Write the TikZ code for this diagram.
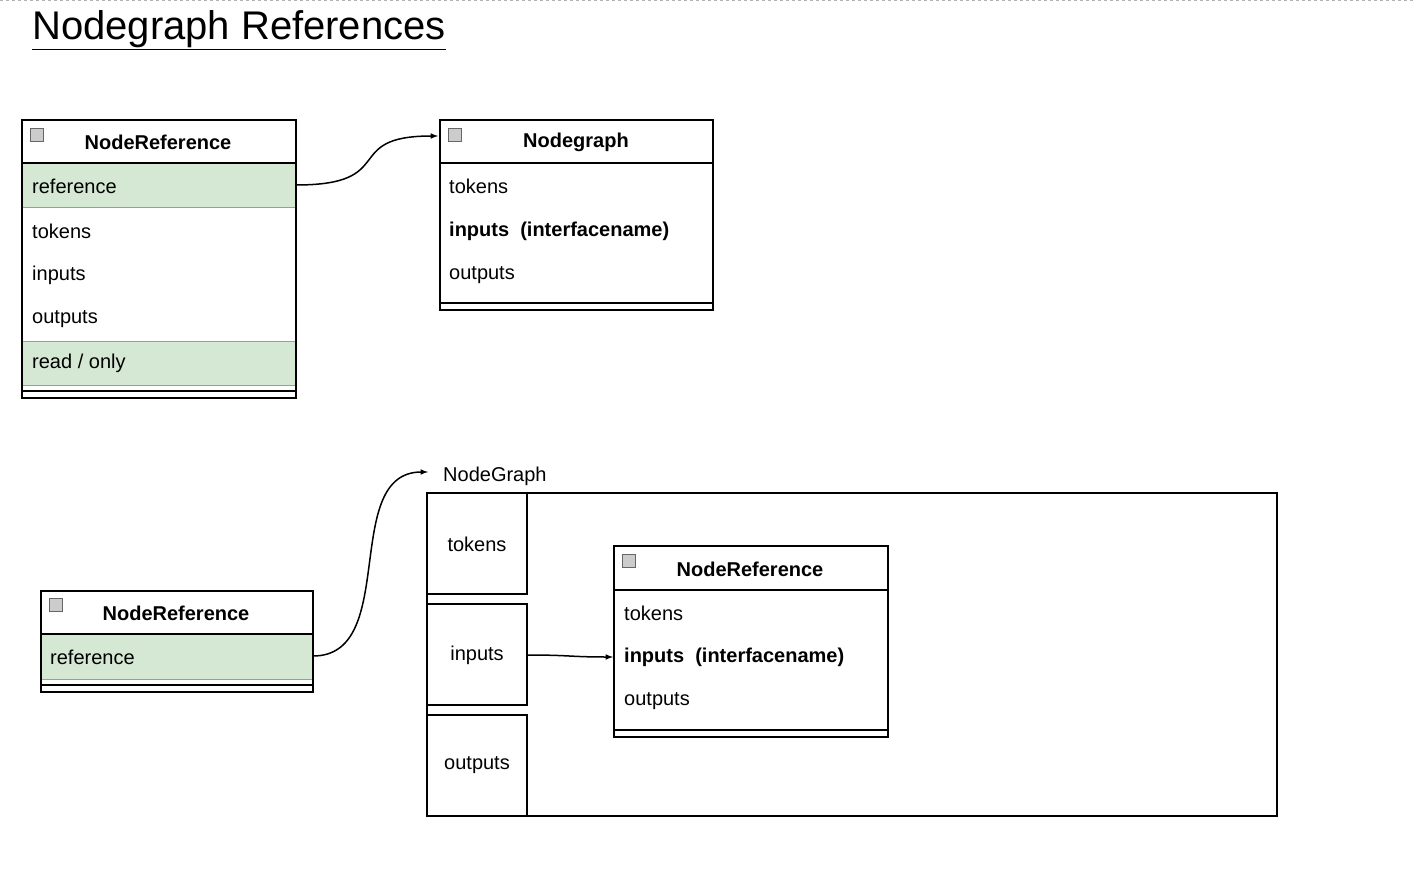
\documentclass[tikz,border=0pt]{standalone}
\usepackage{fontspec}
\setmainfont{Liberation Sans}
\usetikzlibrary{positioning}
\definecolor{rowgreen}{HTML}{D5E8D4}
\definecolor{rowedge}{HTML}{82B366}
\begin{document}
\begin{tikzpicture}[x=1pt,y=-1pt,
  txt/.style={font=\fontsize{20}{24}\selectfont,anchor=west,inner sep=0pt},
  hdr/.style={font=\fontsize{20}{24}\selectfont\bfseries,inner sep=0pt},
  green row/.style={fill=rowgreen,draw=rowedge,line width=1pt},
  box/.style={draw,line width=1.5pt},
  icon/.style={draw=gray!80!black,fill=gray!40,line width=0.8pt,minimum size=13pt,inner sep=0pt},
  conn/.style={line width=1.5pt,-latex}]
\useasboundingbox (0,0) rectangle (1416,877);
\draw[gray!60,dashed,line width=1pt] (0,1) -- (1416,1);
% title
\node (title) [anchor=south west,inner sep=0pt,font=\fontsize{40}{48}\selectfont] at (32,50) {\underline{Nodegraph References}};

% first NodeReference
\fill[green row] (22,163) rectangle (296,208);
\fill[green row] (22,341) rectangle (296,385);
\draw[rowedge,line width=1pt] (22,163) rectangle (296,208) (22,341) rectangle (296,385);
\draw[box] (22,120) rectangle (296,398);
\draw[box] (22,163) -- (296,163) (22,391) -- (296,391);
\node (iconA) [icon] at (37,135) {};
\node (refA) [hdr] at (158,142) {NodeReference};
\node (refArow) [txt] at (32,186) {reference};
\node [txt] at (32,231) {tokens};
\node [txt] at (32,275) {inputs};
\node [txt] at (32,319) {outputs};
\node [txt] at (32,363) {read / only};
\coordinate (refAout) at (296,185);

% Nodegraph
\draw[box] (440,120) rectangle (713,310);
\draw[box] (440,163) -- (713,163) (440,303) -- (713,303);
\node (iconB) [icon] at (455,135) {};
\node (graphB) [hdr] at (576,142) {Nodegraph};
\node [txt] at (449,186) {tokens};
\node [txt] at (449,231) {\bfseries inputs\ \ (interfacename)};
\node [txt] at (449,275) {outputs};
\coordinate (graphBin) at (438,136);
\draw[conn] (refAout) .. controls (400,185) and (340,136) .. (graphBin);

% second NodeReference
\fill[green row] (41,634) rectangle (313,679);
\draw[box] (41,591) rectangle (313,692);
\draw[box] (41,634) -- (313,634) (41,685) -- (313,685);
\node (iconC) [icon] at (56,605) {};
\node (refC) [hdr] at (176,613) {NodeReference};
\node (refCrow) [txt] at (50,657) {reference};
\coordinate (refCout) at (313,656);

% NodeGraph container
\node (ngLabel) [txt] at (443,476) {NodeGraph};
\draw[box,line width=1.2pt] (427,493) rectangle (1277,816);
\draw[box,line width=1.2pt] (427,493) rectangle (527,594);
\draw[box,line width=1.2pt] (427,604) rectangle (527,705);
\draw[box,line width=1.2pt] (427,715) rectangle (527,816);
\node (ngTokens) [txt,anchor=center] at (477,544) {tokens};
\node (ngInputs) [txt,anchor=center] at (477,655) {inputs};
\node (ngOutputs) [txt,anchor=center] at (477,765) {outputs};
\coordinate (ngIn) at (428,472);
\coordinate (ngInputsOut) at (527,655);
\draw[conn] (refCout) .. controls (400,656) and (340,472) .. (ngIn);

% inner NodeReference
\draw[box] (614,546) rectangle (888,737);
\draw[box] (614,590) -- (888,590) (614,730) -- (888,730);
\node (iconD) [icon] at (629,561) {};
\node (refD) [hdr] at (750,569) {NodeReference};
\node [txt] at (624,613) {tokens};
\node (refDin) [txt] at (624,657) {\bfseries inputs\ \ (interfacename)};
\node [txt] at (624,701) {outputs};
\coordinate (refDleft) at (613,657);
\draw[conn] (ngInputsOut) .. controls (570,655) and (570,657) .. (refDleft);
\end{tikzpicture}
\end{document}
